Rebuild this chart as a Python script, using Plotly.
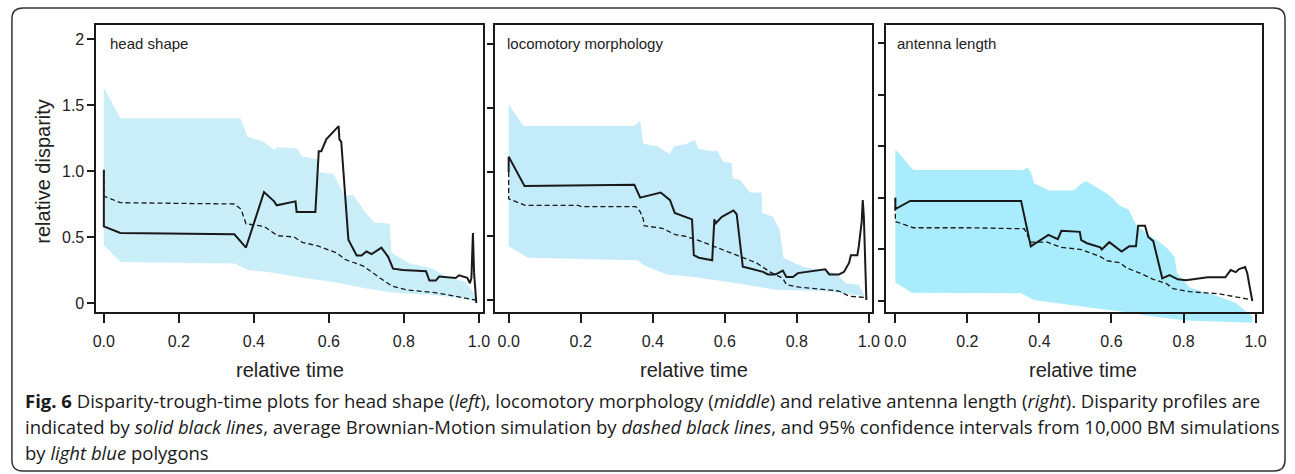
import plotly.graph_objects as go

W, H = 1295, 474

# ---------------- data ----------------
# Panel 1: head shape
hs_up_x = [0.0, 0.044, 0.364, 0.383, 0.427, 0.454, 0.463, 0.515, 0.529, 0.568, 0.573, 0.612, 0.643, 0.665, 0.696, 0.722, 0.762, 0.767, 0.815, 0.877, 0.912, 0.965, 0.987, 0.993]
hs_up_y = [1.63, 1.40, 1.40, 1.26, 1.22, 1.16, 1.18, 1.17, 1.11, 1.09, 0.99, 0.98, 0.81, 0.82, 0.69, 0.61, 0.60, 0.38, 0.30, 0.26, 0.20, 0.16, 0.07, 0.01]
hs_lo_x = [0.0, 0.044, 0.348, 0.383, 0.454, 0.507, 0.612, 0.70, 0.767, 0.877, 0.965, 0.991]
hs_lo_y = [0.44, 0.31, 0.30, 0.25, 0.23, 0.20, 0.16, 0.11, 0.08, 0.06, 0.03, 0.01]
hs_obs_x = [0.0, 0.0, 0.044, 0.348, 0.379, 0.427, 0.454, 0.461, 0.511, 0.514, 0.529, 0.564, 0.573, 0.580, 0.593, 0.626, 0.628, 0.633, 0.652, 0.674, 0.687, 0.700, 0.714, 0.740, 0.758, 0.771, 0.797, 0.859, 0.868, 0.885, 0.894, 0.938, 0.947, 0.969, 0.976, 0.980, 0.984, 0.987, 0.993]
hs_obs_y = [1.01, 0.58, 0.53, 0.52, 0.42, 0.84, 0.77, 0.74, 0.77, 0.69, 0.69, 0.69, 1.15, 1.15, 1.24, 1.34, 1.24, 1.22, 0.48, 0.36, 0.36, 0.39, 0.37, 0.42, 0.35, 0.26, 0.25, 0.24, 0.17, 0.17, 0.20, 0.19, 0.21, 0.19, 0.15, 0.19, 0.53, 0.23, 0.0]
hs_bm_x = [0.0, 0.0, 0.044, 0.348, 0.366, 0.379, 0.427, 0.463, 0.507, 0.529, 0.573, 0.621, 0.643, 0.692, 0.736, 0.767, 0.806, 0.877, 0.921, 0.956, 0.996]
hs_bm_y = [1.0, 0.81, 0.76, 0.75, 0.71, 0.60, 0.58, 0.51, 0.50, 0.46, 0.43, 0.38, 0.33, 0.28, 0.19, 0.13, 0.10, 0.08, 0.06, 0.04, 0.02]

# Panel 2: locomotory morphology
lm_up_x = [0.0, 0.041, 0.349, 0.365, 0.374, 0.413, 0.447, 0.459, 0.495, 0.516, 0.528, 0.569, 0.578, 0.596, 0.619, 0.622, 0.642, 0.670, 0.702, 0.704, 0.734, 0.752, 0.763, 0.817, 0.908, 0.936, 0.972, 0.989]
lm_up_y = [1.53, 1.36, 1.36, 1.40, 1.22, 1.20, 1.14, 1.20, 1.22, 1.25, 1.18, 1.16, 1.17, 1.08, 1.07, 0.95, 0.94, 0.84, 0.84, 0.68, 0.65, 0.55, 0.33, 0.26, 0.21, 0.13, 0.12, 0.04]
lm_lo_x = [0.0, 0.053, 0.358, 0.376, 0.440, 0.514, 0.633, 0.743, 0.881, 0.989]
lm_lo_y = [0.42, 0.33, 0.31, 0.27, 0.20, 0.18, 0.13, 0.08, 0.07, 0.03]
lm_obs_x = [0.0, 0.0, 0.044, 0.349, 0.365, 0.422, 0.448, 0.461, 0.509, 0.514, 0.528, 0.565, 0.571, 0.575, 0.592, 0.624, 0.633, 0.650, 0.665, 0.706, 0.720, 0.739, 0.748, 0.761, 0.771, 0.789, 0.803, 0.853, 0.879, 0.890, 0.917, 0.931, 0.945, 0.950, 0.968, 0.972, 0.980, 0.983, 0.986, 0.993]
lm_obs_y = [1.00, 1.12, 0.89, 0.90, 0.80, 0.84, 0.78, 0.68, 0.63, 0.35, 0.33, 0.31, 0.63, 0.60, 0.65, 0.70, 0.67, 0.26, 0.25, 0.22, 0.20, 0.20, 0.21, 0.23, 0.18, 0.18, 0.21, 0.23, 0.24, 0.20, 0.20, 0.22, 0.29, 0.35, 0.35, 0.42, 0.61, 0.78, 0.65, 0.0]
lm_bm_x = [0.0, 0.0, 0.046, 0.193, 0.202, 0.353, 0.365, 0.374, 0.376, 0.399, 0.427, 0.463, 0.486, 0.523, 0.569, 0.596, 0.628, 0.651, 0.688, 0.725, 0.761, 0.771, 0.807, 0.881, 0.917, 0.945, 0.986]
lm_bm_y = [1.0, 0.79, 0.74, 0.74, 0.73, 0.73, 0.69, 0.63, 0.58, 0.57, 0.56, 0.51, 0.50, 0.47, 0.42, 0.39, 0.36, 0.33, 0.29, 0.22, 0.17, 0.12, 0.10, 0.08, 0.07, 0.03, 0.02]

# Panel 3: antenna length
al_up_x = [0.0, 0.050, 0.353, 0.367, 0.376, 0.385, 0.427, 0.495, 0.518, 0.530, 0.569, 0.596, 0.624, 0.647, 0.670, 0.720, 0.752, 0.775, 0.782, 0.817, 0.899, 0.945, 0.991]
al_up_y = [1.47, 1.27, 1.27, 1.29, 1.25, 1.14, 1.07, 1.07, 1.14, 1.16, 1.08, 1.02, 0.92, 0.89, 0.73, 0.60, 0.52, 0.43, 0.27, 0.13, 0.04, -0.02, -0.15]
al_lo_x = [0.0, 0.046, 0.349, 0.385, 0.440, 0.532, 0.624, 0.716, 0.807, 0.899, 0.991]
al_lo_y = [0.18, 0.08, 0.075, 0.01, -0.02, -0.06, -0.10, -0.15, -0.19, -0.20, -0.21]
al_obs_x = [0.0, 0.0, 0.041, 0.349, 0.376, 0.425, 0.451, 0.461, 0.512, 0.516, 0.532, 0.569, 0.573, 0.594, 0.628, 0.649, 0.668, 0.674, 0.693, 0.702, 0.716, 0.741, 0.761, 0.784, 0.807, 0.867, 0.916, 0.931, 0.945, 0.954, 0.971, 0.977, 0.982, 0.991]
al_obs_y = [1.0, 0.89, 0.97, 0.97, 0.53, 0.64, 0.60, 0.68, 0.67, 0.59, 0.56, 0.52, 0.50, 0.57, 0.48, 0.53, 0.53, 0.73, 0.73, 0.62, 0.58, 0.22, 0.25, 0.21, 0.20, 0.23, 0.23, 0.30, 0.28, 0.31, 0.33, 0.27, 0.17, 0.0]
al_bm_x = [0.0, 0.0, 0.050, 0.202, 0.358, 0.376, 0.422, 0.459, 0.514, 0.569, 0.587, 0.624, 0.642, 0.679, 0.716, 0.752, 0.771, 0.817, 0.899, 0.945, 0.991]
al_bm_y = [1.0, 0.77, 0.71, 0.71, 0.70, 0.57, 0.57, 0.52, 0.50, 0.43, 0.39, 0.37, 0.32, 0.27, 0.21, 0.17, 0.12, 0.09, 0.07, 0.04, 0.01]

panel_titles = ["head shape", "locomotory morphology", "antenna length"]
x_ticks = [0.0, 0.2, 0.4, 0.6, 0.8, 1.0]
x_ticktext = ["0.0", "0.2", "0.4", "0.6", "0.8", "1.0"]
y_ticks_12 = [0, 0.5, 1.0, 1.5, 2.0]
y_ticktext_1 = ["0", "0.5", "1.0", "1.5", "2"]
y_ticks_3 = [0, 0.5, 1.0, 1.5, 2.0, 2.5]
caption_lines = [
    "<b>Fig. 6</b> Disparity-trough-time plots for head shape (<i>left</i>), locomotory morphology (<i>middle</i>) and relative antenna length (<i>right</i>). Disparity profiles are",
    "indicated by <i>solid black lines</i>, average Brownian-Motion simulation by <i>dashed black lines</i>, and 95% confidence intervals from 10,000 BM simulations",
    "by <i>light blue</i> polygons",
]

# ---------------- helpers ----------------
def px(x):
    return x / W

def py(y):
    return 1 - y / H

FONT = "Liberation Sans, Arial, Helvetica, sans-serif"
INK = "#1a1a1a"

fig = go.Figure()

def poly(ux, uy, lx, ly):
    return list(ux) + list(lx)[::-1], list(uy) + list(ly)[::-1]

# panel 1
bx, by = poly(hs_up_x, hs_up_y, hs_lo_x, hs_lo_y)
fig.add_trace(go.Scatter(x=bx, y=by, fill="toself", mode="lines", line=dict(width=0),
                         fillcolor="#c9eef8",
                         fillpattern=dict(shape="/", bgcolor="#cbeff8", fgcolor="#b8e5f2", size=5, solidity=0.12),
                         xaxis="x", yaxis="y", hoverinfo="skip"))
fig.add_trace(go.Scatter(x=hs_bm_x, y=hs_bm_y, mode="lines", line=dict(color=INK, width=1.3, dash="5px,3px"), xaxis="x", yaxis="y"))
fig.add_trace(go.Scatter(x=hs_obs_x, y=hs_obs_y, mode="lines", line=dict(color=INK, width=2), xaxis="x", yaxis="y"))

# panel 2
bx, by = poly(lm_up_x, lm_up_y, lm_lo_x, lm_lo_y)
fig.add_trace(go.Scatter(x=bx, y=by, fill="toself", mode="lines", line=dict(width=0),
                         fillcolor="#c4ebfa", xaxis="x2", yaxis="y2", hoverinfo="skip"))
fig.add_trace(go.Scatter(x=lm_bm_x, y=lm_bm_y, mode="lines", line=dict(color=INK, width=1.3, dash="5px,3px"), xaxis="x2", yaxis="y2"))
fig.add_trace(go.Scatter(x=lm_obs_x, y=lm_obs_y, mode="lines", line=dict(color=INK, width=2), xaxis="x2", yaxis="y2"))

# panel 3 polygon: on an extended hidden subplot (same scale) so it can spill below the box
bx, by = poly(al_up_x, al_up_y, al_lo_x, al_lo_y)
fig.add_trace(go.Scatter(x=bx, y=by, fill="toself", mode="lines", line=dict(width=0),
                         fillcolor="#a8ecfd", xaxis="x3", yaxis="y3", hoverinfo="skip"))
fig.add_trace(go.Scatter(x=al_bm_x, y=al_bm_y, mode="lines", line=dict(color=INK, width=1.3, dash="5px,3px"), xaxis="x4", yaxis="y4"))
fig.add_trace(go.Scatter(x=al_obs_x, y=al_obs_y, mode="lines", line=dict(color=INK, width=2), xaxis="x4", yaxis="y4"))

# ---------------- axes ----------------
top_px, bot_px = 25, 312
ydom = [py(bot_px), py(top_px)]

panels = [
    dict(l=94, r=484, x0=101.7, x1=480.0, y0=303, upx=132.0),
    dict(l=496.7, r=876.7, x0=510.0, x1=873.3, y0=300, upx=128.0),
    dict(l=891, r=1269.3, x0=900.0, x1=1263.3, y0=301, upx=103.2),
]

def xrange_of(p):
    s = p["x1"] - p["x0"]
    return [(p["l"] - p["x0"]) / s, (p["r"] - p["x0"]) / s]

def yrange_of(p, bot=bot_px, top=top_px):
    return [-(bot - p["y0"]) / p["upx"], (p["y0"] - top) / p["upx"]]

axis_common = dict(showline=True, linecolor=INK, linewidth=1.5, mirror=True, ticks="outside",
                   tickcolor=INK, tickwidth=1.5, showgrid=False, zeroline=False,
                   tickfont=dict(family=FONT, size=16, color="#222"))

layout = dict(width=W, height=H, margin=dict(l=0, r=0, t=0, b=0),
              paper_bgcolor="white", plot_bgcolor="rgba(0,0,0,0)", showlegend=False)

p = panels[0]
layout["xaxis"] = dict(domain=[px(p["l"]), px(p["r"])], range=xrange_of(p), anchor="y",
                       tickvals=x_ticks, ticktext=x_ticktext, ticklen=9, ticklabelstandoff=5, **axis_common)
layout["yaxis"] = dict(domain=ydom, range=yrange_of(p), anchor="x",
                       tickvals=y_ticks_12, ticktext=y_ticktext_1, ticklen=7, **axis_common)
p = panels[1]
layout["xaxis2"] = dict(domain=[px(p["l"]), px(p["r"])], range=xrange_of(p), anchor="y2",
                        tickvals=x_ticks, ticktext=x_ticktext, ticklen=9, ticklabelstandoff=5, **axis_common)
layout["yaxis2"] = dict(domain=ydom, range=yrange_of(p), anchor="x2",
                        tickvals=y_ticks_12, showticklabels=False, ticklen=7, **axis_common)
p = panels[2]
ext_bot = 335
layout["xaxis3"] = dict(domain=[px(p["l"]), px(p["r"])], range=xrange_of(p), anchor="y3", visible=False)
layout["yaxis3"] = dict(domain=[py(ext_bot), py(top_px)], range=yrange_of(p, bot=ext_bot), anchor="x3", visible=False)
layout["xaxis4"] = dict(domain=[px(p["l"]), px(p["r"])], range=xrange_of(p), anchor="y4",
                        tickvals=x_ticks, ticktext=x_ticktext, ticklen=9, ticklabelstandoff=5, **axis_common)
layout["yaxis4"] = dict(domain=ydom, range=yrange_of(p), anchor="x4",
                        tickvals=y_ticks_3, showticklabels=False, ticklen=7, **axis_common)

fig.update_layout(**layout)

# ---------------- annotations ----------------
ann = []
title_pos = [(106, 43), (506.7, 43), (900, 43)]
for t, (x, y) in zip(panel_titles, title_pos):
    ann.append(dict(text=t, x=px(x), y=py(y), xref="paper", yref="paper", xanchor="left", yanchor="middle",
                    showarrow=False, font=dict(family=FONT, size=15, color="#222")))
for cx in [289, 697, 1089]:
    ann.append(dict(text="relative time", x=px(cx), y=py(370), xref="paper", yref="paper",
                    xanchor="center", yanchor="middle", showarrow=False,
                    font=dict(family=FONT, size=20, color="#222")))
ann.append(dict(text="relative disparity", x=px(39.5), y=py(171.5), xref="paper", yref="paper",
                xanchor="center", yanchor="middle", textangle=-90, showarrow=False,
                font=dict(family=FONT, size=20, color="#222")))
for i, line in enumerate(caption_lines):
    ann.append(dict(text=line, x=px(20), y=py(400 + 26 * i), xref="paper", yref="paper",
                    xanchor="left", yanchor="middle", showarrow=False, align="left",
                    font=dict(family="Open Sans, sans-serif", size=18.5, color="#1a1a1a")))
fig.update_layout(annotations=ann)

# rounded outer frame
L, T, R, B, rad = 9, 8, 1293, 471, 11
path = (f"M {px(L+rad)},{py(T)} L {px(R-rad)},{py(T)} Q {px(R)},{py(T)} {px(R)},{py(T+rad)} "
        f"L {px(R)},{py(B-rad)} Q {px(R)},{py(B)} {px(R-rad)},{py(B)} "
        f"L {px(L+rad)},{py(B)} Q {px(L)},{py(B)} {px(L)},{py(B-rad)} "
        f"L {px(L)},{py(T+rad)} Q {px(L)},{py(T)} {px(L+rad)},{py(T)} Z")
fig.add_shape(type="path", path=path, xref="paper", yref="paper",
              line=dict(color="#333", width=1.5), fillcolor="rgba(0,0,0,0)", layer="below")

fig.write_html("out.html")
